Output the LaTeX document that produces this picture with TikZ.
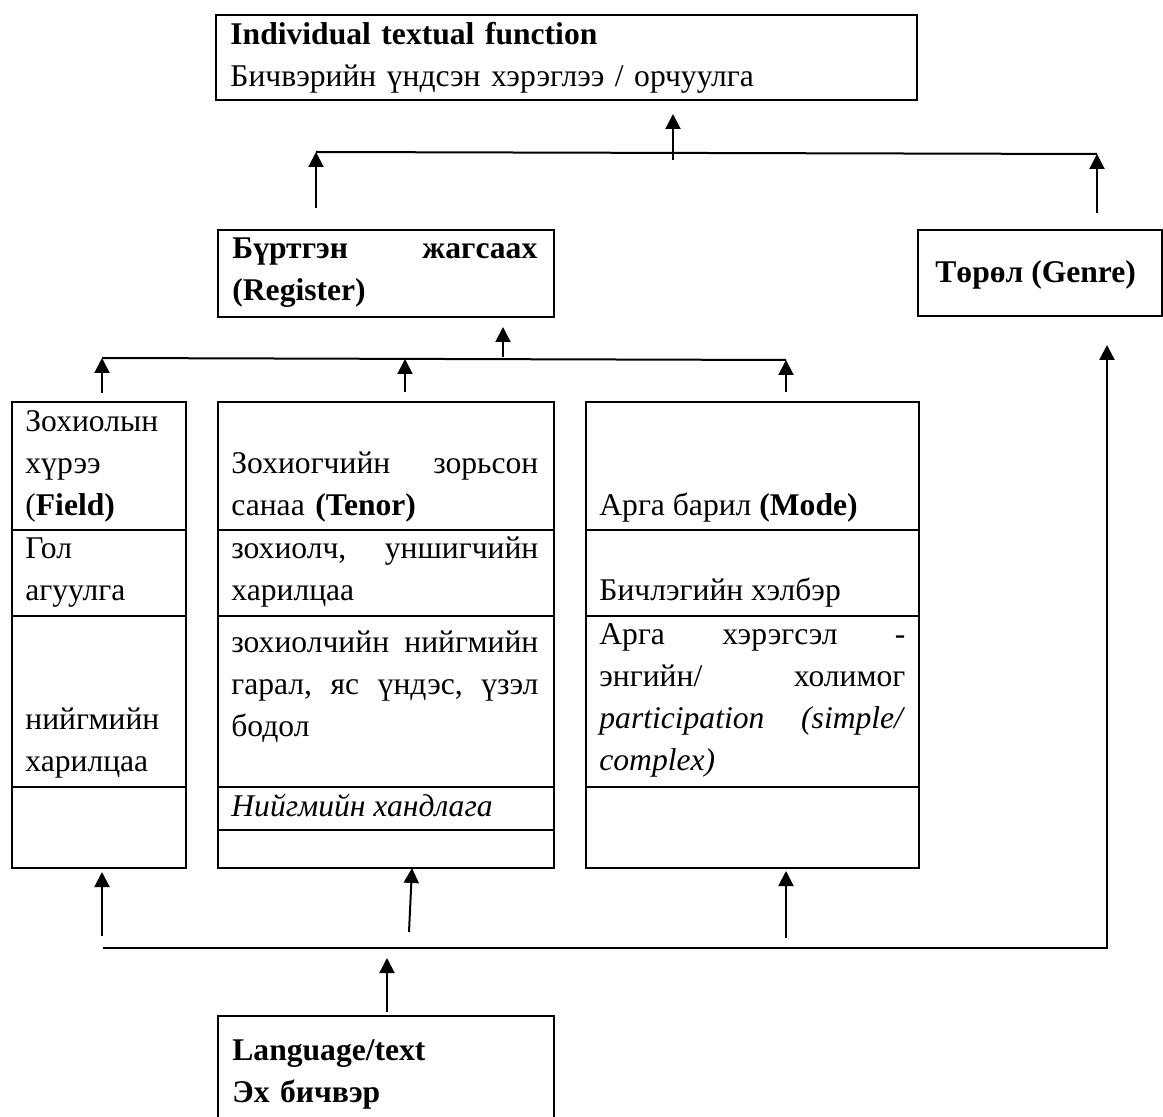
\documentclass[tikz,border=0pt]{standalone}
\usepackage{fontspec}
\setmainfont{Liberation Serif}
\usetikzlibrary{arrows.meta}

\newcommand{\fnt}{\fontsize{15.8}{21}\selectfont}
\newcommand{\mkbox}[5]{\node[box, minimum width={(#4-#2)*0.5pt}, minimum height={(#5-#3)*0.5pt}] (#1) at (#2,#3) {};}

\tikzset{
    box/.style = {draw, line width=1pt, inner sep=0pt, anchor=north west},
    txt/.style = {inner sep=0pt, anchor=base west, align=left, font=\fnt},
    arr/.style = {line width=1pt, -{Triangle[length=7.5pt,width=7.5pt]}},
    trunk/.style = {line width=1pt}
}

\begin{document}
\begin{tikzpicture}[x=0.5pt, y=-0.5pt]
    \useasboundingbox (0,0) rectangle (1163,1117);
    \clip (0,0) rectangle (1163,1117);

    \mkbox{func}{215}{14}{916}{99}
    \mkbox{reg}{217}{229}{553}{316}
    \mkbox{genre}{917}{229}{1161}{315}
    \mkbox{lang}{217}{1015}{553}{1135}

    \foreach \c/\xa/\xb in {field/11/185, tenor/217/553, mode/585/918} {
        \mkbox{\c1}{\xa}{401}{\xb}{529}
        \mkbox{\c2}{\xa}{529}{\xb}{615}
        \mkbox{\c3}{\xa}{615}{\xb}{786}
    }
    \mkbox{field4}{11}{786}{185}{867}
    \mkbox{tenor4}{217}{786}{553}{829}
    \mkbox{tenor5}{217}{829}{553}{867}
    \mkbox{mode4}{585}{786}{918}{867}

    \node[txt, text width=340pt] (funcT) at (230,45) {\textbf{Individual textual function}\\Бичвэрийн үндсэн хэрэглээ / орчуулга};
    \node[txt, text width=152.5pt] (regT) at (232,259) {\textbf{Бүртгэн\hfill жагсаах\\(Register)}};
    \node[txt] (genreT) at (935,283) {\textbf{Төрөл (Genre)}};

    \node[txt, text width=73pt] (fieldA) at (25,432) {Зохиолын\\хүрээ\\(\textbf{Field)}};
    \node[txt, text width=73pt] (fieldB) at (25,559) {Гол\\агуулга};
    \node[txt, text width=73pt] (fieldC) at (25,729) {нийгмийн\\харилцаа};

    \node[txt, text width=153.5pt] (tenorA) at (231,474) {Зохиогчийн\hfill зорьсон\\санаа \textbf{(Tenor)}};
    \node[txt, text width=153.5pt] (tenorB) at (231,559) {зохиолч,\hfill уншигчийн\\харилцаа};
    \node[txt, text width=153.5pt] (tenorC) at (231,653) {зохиолчийн\hfill нийгмийн\\гарал,\hfill яс\hfill үндэс,\hfill үзэл\\бодол};
    \node[txt] (tenorD) at (231,816) {\textit{Нийгмийн хандлага}};

    \node[txt] (modeA) at (599,516) {Арга барил \textbf{(Mode)}};
    \node[txt] (modeB) at (599,601) {Бичлэгийн хэлбэр};
    \node[txt, text width=153pt] (modeC) at (599,645) {Арга\hfill хэрэгсэл\hfill -\\энгийн/\hfill холимог\\\textit{participation\hfill (simple/}\\\textit{complex)}};

    \node[txt, text width=150pt] (langT) at (232,1060) {\textbf{Language/text\\Эх бичвэр}};

    \coordinate (topL) at (316,152);
    \coordinate (topR) at (1097,154);
    \coordinate (midL) at (102,358);
    \coordinate (midR) at (786,360);
    \coordinate (botL) at (103,948);
    \coordinate (botR) at (1107,948);
    \coordinate (genreIn) at (1107,345);

    \draw[trunk] (topL) -- (topR);
    \draw[trunk] (midL) -- (midR);
    \draw[arr, line width=1.2pt] (botL) -- (botR) -- (genreIn);

    \foreach \n/\x/\ya/\yb in {ua/316/208/152, ub/1097/213/154, uc/673/160/114,
        ma/102/393/358, mb/405/392/359, mc/786/392/360, md/503/357/327,
        ba/102/936/872, bc/786/938/871, bd/387/1012/958} {
        \coordinate (\n0) at (\x,\ya);
        \coordinate (\n1) at (\x,\yb);
        \draw[arr] (\n0) -- (\n1);
    }
    \coordinate (bb0) at (409,932);
    \coordinate (bb1) at (412,868);
    \draw[arr] (bb0) -- (bb1);
\end{tikzpicture}
\end{document}
